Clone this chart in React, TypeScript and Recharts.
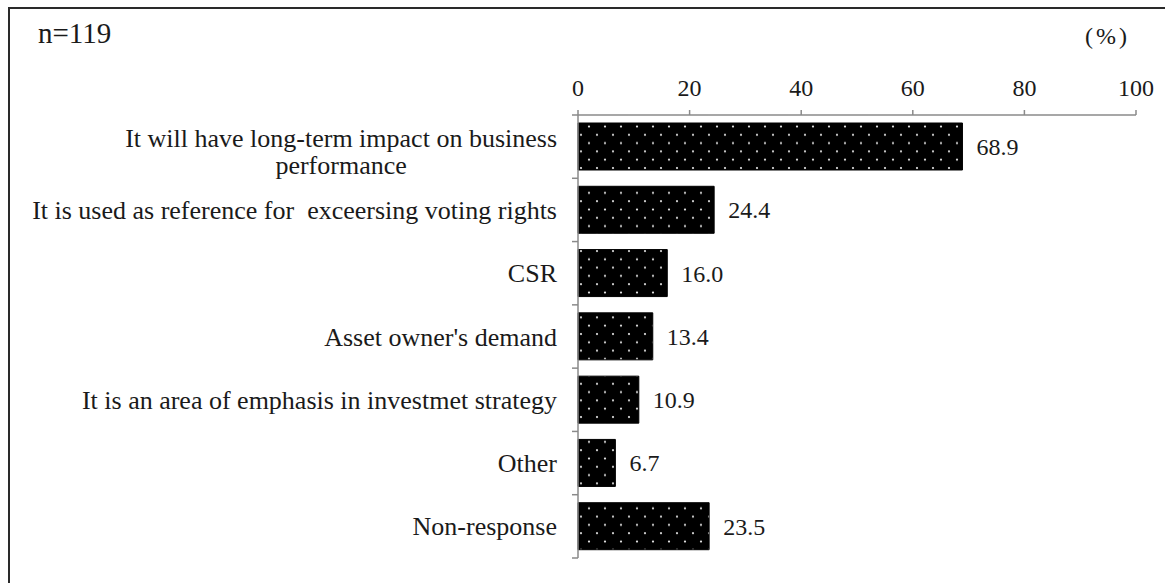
import React, { useLayoutEffect, useRef, useState } from 'react';
import { BarChart, Bar, XAxis, YAxis, LabelList } from 'recharts';

const categories = [
  'It will have long-term impact on business\nperformance',
  'It is used as reference for  exceersing voting rights',
  'CSR',
  "Asset owner's demand",
  'It is an area of emphasis in investmet strategy',
  'Other',
  'Non-response',
];
const percents = [68.9, 24.4, 16.0, 13.4, 10.9, 6.7, 23.5];
const xTicks = [0, 20, 40, 60, 80, 100];
const sampleNote = 'n=119';
const unitNote = '(%)';

const data = categories.map((name, i) => ({ name, value: percents[i] }));

const SERIF = 'Tinos';
const AXIS_GREY = '#8a8a8a';
const CAT_FONT = 26;
const NUM_FONT = 24;

// two-line label: lines centred on each other, block right-aligned to the axis
const WrappedLabel: React.FC<{ lines: string[]; right: number; y: number }> = ({ lines, right, y }) => {
  const ref = useRef<SVGTextElement>(null);
  const [w, setW] = useState(432);
  useLayoutEffect(() => {
    if (ref.current) setW(ref.current.getComputedTextLength());
  }, []);
  return (
    <g>
      {lines.map((l, i) => (
        <text
          key={i}
          ref={i === 0 ? ref : undefined}
          x={i === 0 ? right : right - w / 2}
          y={y - 9 + i * 27}
          dy="0.35em"
          textAnchor={i === 0 ? 'end' : 'middle'}
          fontSize={CAT_FONT}
          fontFamily={SERIF}
          fill="#1a1a1a"
        >
          {l}
        </text>
      ))}
    </g>
  );
};

const CategoryTick: React.FC<any> = ({ y, payload, index }) => {
  const axisX = 578;
  const right = 557;
  const half = payload && payload.offset ? payload.offset : 31.6;
  const lines: string[] = String(payload.value).split('\n');
  return (
    <g>
      <line x1={axisX - 6} x2={axisX} y1={y - half} y2={y - half} stroke={AXIS_GREY} strokeWidth={1.5} />
      {index === categories.length - 1 && (
        <line x1={axisX - 6} x2={axisX} y1={y + half} y2={y + half} stroke={AXIS_GREY} strokeWidth={1.5} />
      )}
      {lines.length === 1 ? (
        <text x={right} y={y} dy="0.35em" textAnchor="end" fontSize={CAT_FONT} fontFamily={SERIF} fill="#1a1a1a">
          {lines[0].replace('  ', ' \u00a0')}
        </text>
      ) : (
        <WrappedLabel lines={lines} right={right} y={y} />
      )}
    </g>
  );
};

export default function App() {
  return (
    <div style={{ position: 'absolute', left: 0, top: 0, width: 1165, height: 583, overflow: 'hidden', background: '#fff' }}>
      <div
        style={{
          position: 'absolute', left: 8, top: 7, width: 1300, height: 700,
          borderLeft: '2px solid #2a2a2a', borderTop: '2px solid #2a2a2a',
        }}
      />
      <div style={{ position: 'absolute', left: 38, top: 16, fontFamily: SERIF, fontSize: 29, color: '#1a1a1a', lineHeight: '34px' }}>{sampleNote}</div>
      <div style={{ position: 'absolute', left: 1085, top: 22, fontFamily: SERIF, fontSize: 24, letterSpacing: 3, color: '#1a1a1a', lineHeight: '28px' }}>{unitNote}</div>
      <div style={{ position: 'absolute', left: 0, top: 0 }}>
        <BarChart
          width={1165}
          height={583}
          data={data}
          layout="vertical"
          margin={{ top: 85, right: 29, bottom: 25, left: 0 }}
          barCategoryGap={0}
        >
          <defs>
            <pattern id="dots" width={16} height={16.6} patternUnits="userSpaceOnUse" x={1} y={-1}>
              <rect width={16} height={16.6} fill="#000" />
              <circle cx={4} cy={3} r={1.1} fill="#e8e8e8" />
              <circle cx={12} cy={11.3} r={1.1} fill="#e8e8e8" />
            </pattern>
          </defs>
          <XAxis
            type="number"
            orientation="top"
            domain={[0, 100]}
            ticks={xTicks}
            height={30}
            axisLine={{ stroke: AXIS_GREY, strokeWidth: 1.5 }}
            tickLine={{ stroke: AXIS_GREY, strokeWidth: 1.5 }}
            tickSize={5}
            tickMargin={14}
            tick={{ fontSize: NUM_FONT, fontFamily: SERIF, fill: '#1a1a1a' }}
            interval={0}
          />
          <YAxis
            type="category"
            dataKey="name"
            width={578}
            axisLine={{ stroke: AXIS_GREY, strokeWidth: 1.5 }}
            tickLine={false}
            tick={<CategoryTick />}
            interval={0}
          />
          <Bar dataKey="value" barSize={47} fill="url(#dots)" stroke="#000" strokeWidth={1} isAnimationActive={false}>
            <LabelList
              dataKey="value"
              position="right"
              offset={14}
              formatter={(v: any) => Number(v).toFixed(1)}
              style={{ fontSize: NUM_FONT, fontFamily: SERIF, fill: '#1a1a1a' }}
            />
          </Bar>
        </BarChart>
      </div>
    </div>
  );
}
